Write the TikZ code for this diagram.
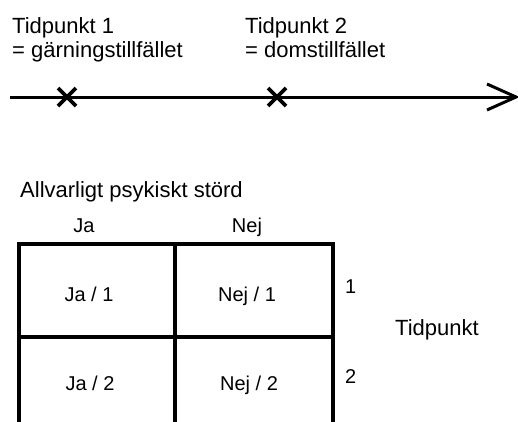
\documentclass[tikz,border=0pt]{standalone}
\usepackage{fontspec}
\setmainfont{Liberation Sans}
\usetikzlibrary{calc}
\begin{document}
\begin{tikzpicture}[x=1pt,y=-1pt,
  lbl/.style={inner sep=0pt,font=\fontsize{22}{26}\selectfont},
  cell/.style={inner sep=0pt,font=\fontsize{20}{24}\selectfont},
  rule/.style={line width=3.4pt},
  tick/.style={line width=3.6pt},
  axis/.style={line width=3pt}]
\useasboundingbox (0,0) rectangle (518,421);
\clip (0,0) rectangle (518,421);

% time axis with the two marked points
\coordinate (start) at (10,97);
\coordinate (end) at (516,97);
\draw[axis] (start) -- (end);
\draw[axis,line join=miter] (487,84) -- (end) -- (487,110);
\coordinate (t1) at (67,97);
\coordinate (t2) at (277,97);
\draw[tick] ($(t1)+(-9,-9)$) -- ($(t1)+(9,9)$) ($(t1)+(-9,9)$) -- ($(t1)+(9,-9)$);
\draw[tick] ($(t2)+(-9,-9)$) -- ($(t2)+(9,9)$) ($(t2)+(-9,9)$) -- ($(t2)+(9,-9)$);

% labels of the two points
\node[lbl,anchor=base west] (p1) at (12,33) {Tidpunkt 1};
\node[lbl,anchor=base west] (p1b) at (12,57) {= gärningstillfället};
\node[lbl,anchor=base west] (p2) at (245,33) {Tidpunkt 2};
\node[lbl,anchor=base west] (p2b) at (245,57) {= domstillfället};

% four-field table
\node[lbl,anchor=base west] (title) at (20,197) {Allvarligt psykiskt störd};
\node[cell,anchor=base] (hja) at (84,232) {Ja};
\node[cell,anchor=base] (hnej) at (247,232) {Nej};

\draw[rule] (19,430) -- (19,244) -- (333,244) -- (333,430);
\draw[rule] (175,244) -- (175,430);
\draw[rule] (19,337) -- (333,337);

\node[cell,anchor=base] (c11) at (89,301) {Ja / 1};
\node[cell,anchor=base] (c12) at (247,301) {Nej / 1};
\node[cell,anchor=base] (c21) at (90,390) {Ja / 2};
\node[cell,anchor=base] (c22) at (249,390) {Nej / 2};

\node[cell,anchor=base west] (r1) at (345,293) {1};
\node[cell,anchor=base west] (r2) at (345,383) {2};
\node[lbl,anchor=base west] (tp) at (395,335) {Tidpunkt};
\end{tikzpicture}
\end{document}
